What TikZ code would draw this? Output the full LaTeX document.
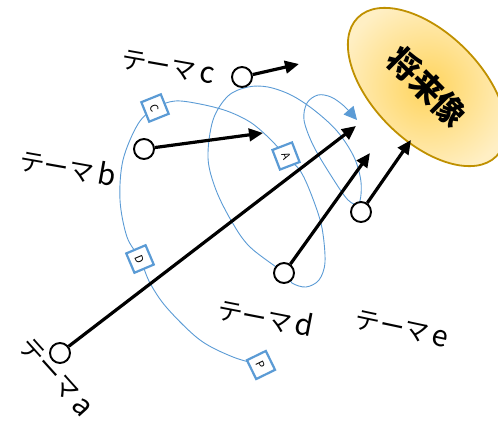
\documentclass[tikz,border=0pt]{standalone}
\usepackage{fontspec}
\usepackage{graphicx}
\usetikzlibrary{arrows.meta,shapes.geometric}
\newfontfamily\cjk{Noto Sans CJK JP}
\definecolor{lineblue}{RGB}{91,155,213}
\definecolor{goldline}{RGB}{191,144,0}
\definecolor{goldin}{RGB}{255,212,92}
\definecolor{goldout}{RGB}{255,239,196}
\pgfdeclarelayer{background}
\pgfsetlayers{background,main}
% a theme name: katakana word followed by a larger latin letter
\newcommand{\themename}[1]{テーマ\hspace{4pt}{\fontsize{29}{30}\selectfont #1}}
\tikzset{
  theme/.style={circle, draw, line width=1.9pt, fill=white, minimum size=20pt, inner sep=0pt},
  push/.style={line width=3.2pt, -{Triangle[length=14pt,width=12.5pt]}},
  tag/.style={draw=lineblue, line width=2.2pt, fill=white, minimum size=21pt, inner sep=0pt,
    font=\cjk\fontsize{11}{11}\selectfont},
  lbl/.style={font=\cjk\fontsize{25}{28}\selectfont, inner sep=0pt},
  route/.style={draw=lineblue, line width=0.9pt, -{Triangle[length=13pt,width=13pt]}, fill=none},
}
\begin{document}
\begin{tikzpicture}[x=1pt,y=-1pt]
\useasboundingbox (0,0) rectangle (498,421);
\clip (0,0) rectangle (498,421);

% goal
\node[ellipse, draw=goldline, line width=1.8pt, inner color=goldin, outer color=goldout,
      minimum width=196pt, minimum height=108pt, rotate=-45,
      font=\cjk\bfseries\fontsize{32}{34}\selectfont] (goal) at (427,87) {将来像};

% theme points
\node[theme] (a) at (60,353) {};
\node[theme] (b) at (144,149) {};
\node[theme] (c) at (242,77) {};
\node[theme] (d) at (284,273) {};
\node[theme] (e) at (361,212) {};

% labels
\node[lbl, rotate=-48] (la) at (56,377) {\themename{a}};
\node[lbl, rotate=-10] (lb) at (68,167) {\themename{b}};
\node[lbl, rotate=-10] (lc) at (168,67) {\themename{c}};
\node[lbl, rotate=-11] (ld) at (266,317) {\themename{d}};
\node[lbl, rotate=-12] (le) at (402,329) {\themename{e}};

% tags along the route
\coordinate (pP) at (261,365);
\coordinate (pD) at (140,259);
\coordinate (pC) at (155,108);
\coordinate (pA) at (286,156);
\node[tag, rotate=26] (tP) at (pP) {\rotatebox{-90}{P}};
\node[tag, rotate=23] (tD) at (pD) {\rotatebox{-90}{D}};
\node[tag, rotate=22] (tC) at (pC) {\rotatebox{-90}{C}};
\node[tag, rotate=21] (tA) at (pA) {\rotatebox{-90}{A}};

% arrow ends
\coordinate (ta) at (356,126);
\coordinate (tb) at (263,133);
\coordinate (tc) at (299,64);
\coordinate (td) at (370,153);
\coordinate (te) at (411,140);

% winding route through all themes
\begin{pgfonlayer}{background}
\draw[route] plot[smooth, tension=0.55] coordinates {
  (pP) (233,357) (200,340) (167,308) (150,283) (pD) (127,237) (120,200)
  (123,160) (138,124) (pC) (175,101) (200,104) (227,111) (250,122) (268,137) (pA)
  (301,172) (313,199) (322,228) (325,262) (319,280) (306,287) (292,283) (d)
  (250,247) (232,222) (216,190) (208,158) (213,120) (228,96) (248,87)
  (268,87) (291,95) (314,110) (337,131) (354,157) (361,182) (359,203)
  (348,200) (330,174) (313,145) (304,120) (307,103) (318,95) (331,97) (344,106) (357,120)};
\end{pgfonlayer}

% pushes toward the goal
\draw[push] (a) -- (ta);
\draw[push] (b) -- (tb);
\draw[push] (c) -- (tc);
\draw[push] (d) -- (td);
\draw[push] (e) -- (te);
\end{tikzpicture}
\end{document}
